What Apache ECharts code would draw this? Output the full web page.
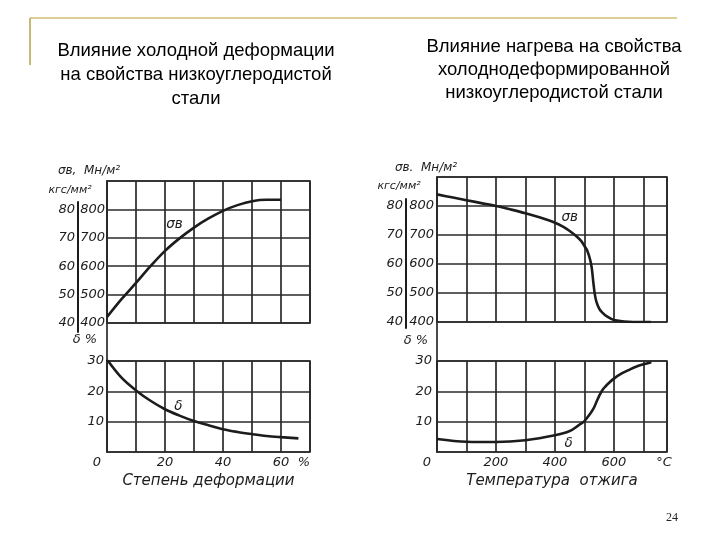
<!DOCTYPE html>
<html>
<head>
<meta charset="utf-8">
<script src="https://cdn.jsdelivr.net/npm/echarts@6/dist/echarts.min.js"></script>
<style>
html,body{margin:0;padding:0;background:#fff;}
#chart{width:720px;height:540px;}
</style>
</head>
<body>
<div id="chart"></div>
<script>
// ---- Data ----
// Left chart: cold deformation, %
const defSigmaX = [0, 5, 10, 15, 20, 25, 30, 35, 40, 45, 50, 55, 60];
const defSigmaY = [421, 484, 541, 600, 654, 698, 736, 768, 795, 815, 829, 834, 834];
const defDeltaX = [0, 5, 10, 15, 20, 25, 30, 35, 40, 45, 50, 55, 60, 66];
const defDeltaY = [30.5, 24.5, 20.3, 16.9, 14.1, 12.0, 10.2, 8.8, 7.5, 6.6, 5.9, 5.3, 4.9, 4.5];
// Right chart: annealing temperature, °C
const tmpSigmaX = [0, 50, 100, 150, 200, 250, 300, 350, 400, 430, 450, 470, 490, 500, 510, 520, 525, 530, 535, 540, 550, 560, 575, 600, 650, 725];
const tmpSigmaY = [840, 830, 820, 810, 800, 788, 775, 760, 742, 727, 714, 698, 678, 662, 645, 612, 585, 538, 497, 472, 446, 433, 420, 407, 401, 400];
const tmpDeltaX = [0, 100, 200, 300, 400, 450, 480, 500, 520, 530, 540, 550, 560, 570, 580, 600, 625, 650, 675, 700, 727];
const tmpDeltaY = [4.3, 3.4, 3.3, 3.9, 5.5, 6.9, 8.8, 10.2, 12.7, 14.2, 16.3, 18.5, 20.3, 21.5, 22.5, 24.2, 25.8, 27.0, 28.1, 28.9, 29.6];

// Tick labels
const defXTicks = [0, 20, 40, 60, 70];
const defXTickText = ['0', '20', '40', '60', '%'];
const tmpXTicks = [0, 200, 400, 600, 770];
const tmpXTickText = ['0', '200', '400', '600', '°C'];
const mnTicks = [400, 500, 600, 700, 800];
const kgfTicks = [40, 50, 60, 70, 80];
const deltaTicks = [10, 20, 30];

// Texts
const titleLeft = 'Влияние холодной деформации\nна свойства низкоуглеродистой\nстали';
const titleRight = 'Влияние нагрева на свойства\nхолоднодеформированной\nнизкоуглеродистой стали';
const sigmaName = 'σв';
const deltaName = 'δ';

// ---- Styles ----
const INK = '#1c1c1c';
const GRIDC = '#2a2a2a';
const hand = {fontFamily: 'DejaVu Sans', fontStyle: 'italic', color: INK};

function mkLabelFormatter(ticks, texts, lastShift) {
  return function (v) {
    const i = ticks.indexOf(v);
    if (i < 0) return '';
    if (i === 0) return '{z|' + texts[i] + '}';
    if (i === ticks.length - 1 && lastShift) return '{e|' + texts[i] + '}';
    return texts[i];
  };
}
function richFor(zeroShift, lastShift) {
  return {
    z: Object.assign({fontSize: 13, padding: [0, zeroShift, 0, 0]}, hand),
    e: Object.assign({fontSize: 13, padding: [0, lastShift, 0, 0]}, hand)
  };
}

const gridBase = {show: true, borderColor: GRIDC, borderWidth: 1.7, backgroundColor: 'transparent', containLabel: false, outerBoundsMode: 'none'};
const splitL = {show: true, lineStyle: {color: GRIDC, width: 1.7}};

const grids = [
  Object.assign({left: 107, top: 181, width: 203, height: 142}, gridBase), // 0 left upper
  Object.assign({left: 107, top: 361, width: 203, height: 91}, gridBase),  // 1 left lower
  Object.assign({left: 437, top: 177, width: 230, height: 145}, gridBase), // 2 right upper
  Object.assign({left: 437, top: 361, width: 230, height: 91}, gridBase),  // 3 right lower
  {left: 78, top: 202, width: 10, height: 130, show: false, outerBoundsMode: 'none'},  // 4 left kgf
  {left: 406, top: 199, width: 10, height: 129, show: false, outerBoundsMode: 'none'}, // 5 right kgf
  {left: 107, top: 181, width: 203, height: 271, show: false, outerBoundsMode: 'none'}, // 6 left frame
  {left: 437, top: 177, width: 230, height: 275, show: false, outerBoundsMode: 'none'}  // 7 right frame
];

const hiddenX = (g) => ({type: 'value', gridIndex: g, show: false, min: 0, max: 1});

const xAxes = [
  {type: 'value', gridIndex: 0, min: 0, max: 70, interval: 10, axisLine: {show: false}, axisTick: {show: false}, axisLabel: {show: false}, splitLine: splitL},
  {type: 'value', gridIndex: 1, min: 0, max: 70, interval: 10, axisLine: {show: false}, axisTick: {show: false}, splitLine: splitL,
   axisLabel: Object.assign({fontSize: 13, margin: 4, customValues: defXTicks, formatter: mkLabelFormatter(defXTicks, defXTickText, 12), rich: richFor(20, 12)}, hand),
   name: 'Степень деформации', nameLocation: 'middle', nameGap: 22, nameTextStyle: Object.assign({fontSize: 15}, hand)},
  {type: 'value', gridIndex: 2, min: 0, max: 780, interval: 100, axisLine: {show: false}, axisTick: {show: false}, axisLabel: {show: false}, splitLine: splitL},
  {type: 'value', gridIndex: 3, min: 0, max: 780, interval: 100, axisLine: {show: false}, axisTick: {show: false}, splitLine: splitL,
   axisLabel: Object.assign({fontSize: 13, margin: 4, customValues: tmpXTicks, formatter: mkLabelFormatter(tmpXTicks, tmpXTickText, 0), rich: richFor(20, 0)}, hand),
   name: 'Температура  отжига', nameLocation: 'middle', nameGap: 22, nameTextStyle: Object.assign({fontSize: 15}, hand)},
  hiddenX(4), hiddenX(5), hiddenX(6), hiddenX(7)
];

const plainFmt = (ticks) => (v) => (ticks.indexOf(v) >= 0 ? String(v) : '');

const yAxes = [
  {type: 'value', gridIndex: 0, min: 400, max: 900, interval: 100, axisLine: {show: false}, axisTick: {show: false}, splitLine: splitL,
   axisLabel: Object.assign({fontSize: 13, margin: 2, customValues: mnTicks, formatter: plainFmt(mnTicks)}, hand)},
  {type: 'value', gridIndex: 1, min: 0, max: 30, interval: 10, axisLine: {show: false}, axisTick: {show: false}, splitLine: splitL,
   axisLabel: Object.assign({fontSize: 13, margin: 3, customValues: deltaTicks, formatter: plainFmt(deltaTicks)}, hand)},
  {type: 'value', gridIndex: 2, min: 400, max: 900, interval: 100, axisLine: {show: false}, axisTick: {show: false}, splitLine: splitL,
   axisLabel: Object.assign({fontSize: 13, margin: 3, customValues: mnTicks, formatter: plainFmt(mnTicks)}, hand)},
  {type: 'value', gridIndex: 3, min: 0, max: 30, interval: 10, axisLine: {show: false}, axisTick: {show: false}, splitLine: splitL,
   axisLabel: Object.assign({fontSize: 13, margin: 5, customValues: deltaTicks, formatter: plainFmt(deltaTicks)}, hand)},
  {type: 'value', gridIndex: 4, min: 36.83, max: 82.6, axisLine: {show: true, lineStyle: {color: INK, width: 2}}, axisTick: {show: false}, splitLine: {show: false},
   axisLabel: Object.assign({fontSize: 13, margin: 3, customValues: kgfTicks, formatter: plainFmt(kgfTicks)}, hand)},
  {type: 'value', gridIndex: 5, min: 37.9, max: 82.4, axisLine: {show: true, lineStyle: {color: INK, width: 2}}, axisTick: {show: false}, splitLine: {show: false},
   axisLabel: Object.assign({fontSize: 13, margin: 3, customValues: kgfTicks, formatter: plainFmt(kgfTicks)}, hand)},
  {type: 'value', gridIndex: 6, min: 0, max: 1, axisLine: {show: true, lineStyle: {color: GRIDC, width: 1.7}}, axisTick: {show: false}, axisLabel: {show: false}, splitLine: {show: false}},
  {type: 'value', gridIndex: 7, min: 0, max: 1, axisLine: {show: true, lineStyle: {color: GRIDC, width: 1.7}}, axisTick: {show: false}, axisLabel: {show: false}, splitLine: {show: false}}
];

function curve(xs, ys, axisIdx, name, labelAtX, labelPosXY) {
  const data = xs.map((x, i) => {
    const item = {value: [x, ys[i]]};
    if (x === labelAtX) {
      item.label = Object.assign({show: true, formatter: name, position: labelPosXY, align: 'center', verticalAlign: 'middle', fontSize: 13.5}, hand);
    }
    return item;
  });
  return {
    type: 'line', name: name, xAxisIndex: axisIdx, yAxisIndex: axisIdx,
    data: data, smooth: 0.35, showSymbol: true, showAllSymbol: true, symbol: 'circle', symbolSize: 0.1,
    itemStyle: {color: 'rgba(0,0,0,0)'},
    label: {show: false},
    lineStyle: {color: INK, width: 2.6}, silent: true, animation: false, z: 5,
    labelLayout: {hideOverlap: false}
  };
}

const series = [
  curve(defSigmaX, defSigmaY, 0, sigmaName, 25, [-5, -14]),
  curve(defDeltaX, defDeltaY, 1, deltaName, 25, [-1, -9]),
  curve(tmpSigmaX, tmpSigmaY, 2, sigmaName, 430, [6, -10]),
  curve(tmpDeltaX, tmpDeltaY, 3, deltaName, 450, [-1, 12])
];

function txt(x, y, text, size) {
  return {type: 'text', x: x, y: y, silent: true,
    style: {text: text, fill: INK, fontSize: size, fontStyle: 'italic', fontFamily: 'DejaVu Sans', align: 'center', verticalAlign: 'middle'}};
}

const option = {
  backgroundColor: '#ffffff',
  animation: false,
  title: [
    {text: titleLeft, left: 196, top: 39, padding: 0, textAlign: 'center',
     textStyle: {fontFamily: 'Liberation Sans', fontSize: 18.5, fontWeight: 'normal', color: '#000', lineHeight: 24}},
    {text: titleRight, left: 554, top: 35, padding: 0, textAlign: 'center',
     textStyle: {fontFamily: 'Liberation Sans', fontSize: 18.5, fontWeight: 'normal', color: '#000', lineHeight: 23}},
    {text: '24', left: 672, top: 512, padding: 0, textAlign: 'center',
     textStyle: {fontFamily: 'Liberation Serif', fontSize: 12, fontWeight: 'normal', color: '#222'}}
  ],
  grid: grids,
  xAxis: xAxes,
  yAxis: yAxes,
  series: series,
  graphic: [
    {type: 'line', silent: true, shape: {x1: 30, y1: 18, x2: 677, y2: 18}, style: {stroke: '#d2c073', lineWidth: 1.5}},
    {type: 'line', silent: true, shape: {x1: 30, y1: 18, x2: 30, y2: 65}, style: {stroke: '#b8a048', lineWidth: 1.5}},
    txt(89, 171, 'σв,  Мн/м²', 12),
    txt(70, 190, 'кгс/мм²', 11),
    txt(85, 340, 'δ %', 13),
    txt(426, 168, 'σв.  Мн/м²', 12),
    txt(399, 186, 'кгс/мм²', 11),
    txt(416, 341, 'δ %', 13)
  ]
};

const chart = echarts.init(document.getElementById('chart'), null, {renderer: 'canvas'});
chart.setOption(option);
</script>
</body>
</html>
